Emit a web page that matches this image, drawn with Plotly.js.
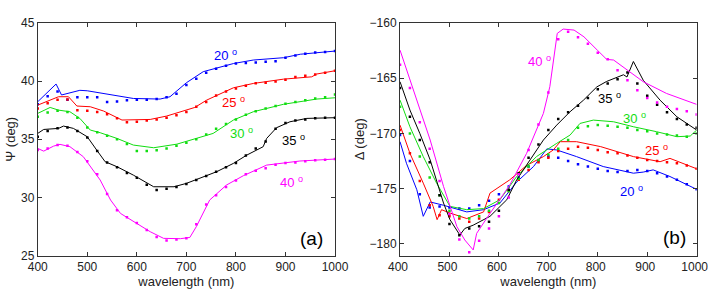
<!DOCTYPE html>
<html><head><meta charset="utf-8">
<script src="https://cdn.plot.ly/plotly-3.0.1.min.js"></script>
<style>html,body{margin:0;padding:0;background:#fff}#c{width:708px;height:292px}</style>
</head><body><div id="c"></div>
<script>
// ---- data ----
const angles = ["20", "25", "30", "35", "40"];
const colors = ["#0000ff", "#ff0000", "#11dd11", "#000000", "#ff00ff"];
const wlExp = [400,420,440,460,480,500,520,540,560,580,600,620,640,660,680,700,720,740,760,780,800,820,840,860,880,900,920,940,960,980,1000];

// Psi measured (dots)
const psiExp20 = [38.0,38.7,39.1,38.4,38.6,38.6,38.6,38.2,38.25,38.35,38.4,38.4,38.45,38.6,38.9,39.65,40.2,40.7,41.05,41.3,41.5,41.55,41.6,41.65,41.7,42.0,42.2,42.35,42.45,42.5,42.57];
const psiExp25 = [37.65,38.1,38.4,38.42,37.5,37.45,37.35,37.15,36.8,36.45,36.5,36.6,36.7,36.85,37.05,37.35,37.79,38.2,38.75,39.1,39.35,39.6,39.8,39.85,39.95,40.1,40.35,40.45,40.55,40.7,40.88];
const psiExp30 = [36.93,37.3,37.45,37.35,36.85,36.0,35.6,35.3,35.0,34.6,34.0,34.0,34.05,34.2,34.45,34.7,35.0,35.4,35.9,36.3,36.7,37.1,37.4,37.65,37.85,38.05,38.2,38.35,38.5,38.6,38.85];
const psiExp35 = [35.21,35.7,35.95,36.0,35.7,35.15,34.0,33.0,32.6,32.1,31.7,31.1,30.64,30.75,30.9,31.15,31.5,31.85,32.2,32.6,32.95,33.6,34.2,34.8,35.9,36.4,36.6,36.7,36.8,36.85,36.85];
const psiExp40 = [34.07,34.2,34.5,34.45,33.9,33.1,32.0,30.3,28.9,28.3,27.8,27.2,26.6,26.3,26.4,26.5,27.7,29.4,30.2,30.9,31.45,32.0,32.3,32.5,32.8,32.95,33.0,33.1,33.2,33.25,33.3];

// Psi model (lines)
const psiFitX20 = [400,437,448,485,500,540,593,647,667,700,734,795,835,896,930,1000];
const psiFit20  = [38.22,39.74,38.8,39.2,39.16,38.85,38.5,38.45,38.65,39.85,40.8,41.5,41.8,42.0,42.3,42.57];
const psiFitX25 = [400,442,462,479,506,533,570,627,660,700,717,741,795,835,896,953,963,1000];
const psiFit25  = [37.93,38.65,38.65,37.85,37.79,37.42,36.65,36.7,36.99,37.5,37.73,38.36,39.42,39.79,40.16,40.36,40.6,40.88];
const psiFitX30 = [400,425,442,465,485,506,526,560,593,634,681,727,754,795,835,896,963,1000];
const psiFit30  = [37.22,37.73,37.5,37.36,36.79,35.79,35.56,35.07,34.5,34.27,34.58,35.13,35.5,36.65,37.36,38.0,38.45,38.56];
const psiFitX35 = [400,412,442,452,472,500,519,536,560,593,634,675,700,727,761,795,822,855,862,882,909,943,1000];
const psiFit35  = [35.5,35.84,35.93,36.13,35.93,35.21,34.07,33.07,32.64,31.92,30.92,30.92,31.21,31.64,32.21,32.93,33.64,34.36,35.07,35.99,36.5,36.79,36.85];
const psiFitX40 = [400,412,432,445,465,492,526,547,567,593,627,654,688,707,720,747,781,815,862,929,1000];
const psiFit40  = [34.21,33.98,34.41,34.56,34.36,33.5,31.5,29.78,28.63,27.92,27.06,26.49,26.46,26.57,27.49,29.78,31.07,31.87,32.78,33.13,33.3];

// Delta measured (dots)
const delExp20 = [-170.15,-172.5,-175.5,-176.7,-176.6,-176.7,-176.8,-176.8,-176.5,-176.1,-175.5,-174.8,-174.0,-173.0,-172.5,-172.1,-172.2,-172.5,-172.8,-173.0,-173.2,-173.4,-173.5,-173.4,-173.3,-173.4,-173.6,-173.9,-174.2,-174.6,-175.06];
const delExp25 = [-169.7,-171.8,-174.3,-176.5,-177.4,-177.5,-177.7,-178.0,-177.7,-177.1,-176.0,-175.2,-174.2,-173.3,-172.6,-172.2,-171.6,-171.4,-171.2,-171.3,-171.5,-171.7,-171.8,-172.0,-172.2,-172.4,-172.5,-172.6,-172.7,-172.9,-173.2];
const delExp30 = [-167.6,-170.0,-172.1,-174.0,-175.6,-177.0,-177.5,-177.7,-177.5,-177.0,-176.3,-175.2,-174.1,-173.0,-172.4,-171.9,-171.4,-170.6,-169.5,-169.35,-169.25,-169.3,-169.4,-169.5,-169.7,-169.8,-170.0,-170.1,-170.2,-170.3,-170.0];
const delExp35 = [-165.9,-168.5,-170.6,-172.6,-175.6,-178.2,-179.2,-178.6,-178.4,-178.0,-177.0,-175.1,-173.6,-172.2,-171.0,-169.7,-168.7,-168.1,-167.5,-166.8,-166.0,-165.5,-165.1,-164.5,-165.5,-166.6,-167.4,-168.1,-168.7,-169.2,-169.5];
const delExp40 = [-163.8,-165.9,-169.0,-171.4,-174.3,-177.3,-179.6,-180.75,-179.7,-178.6,-177.5,-175.8,-173.7,-171.5,-169.2,-166.3,-161.5,-160.8,-161.3,-161.9,-162.7,-163.3,-164.3,-165.2,-166.1,-166.8,-167.2,-167.6,-167.8,-168.0,-168.3];

// Delta model (lines)
const delFitX20 = [400,413,434,447,461,488,535,569,602,636,670,697,717,757,811,872,892,912,946,1000];
const delFit20  = [-170.75,-172.7,-175.1,-177.5,-176.2,-176.5,-177.1,-176.9,-176.3,-174.4,-173.0,-171.4,-171.5,-172.1,-173.0,-173.6,-173.5,-173.3,-173.9,-175.06];
const delFitX25 = [400,420,447,467,475,484,501,535,569,582,622,656,690,710,724,757,806,872,926,939,946,1000];
const delFit25  = [-169.25,-171.8,-174.5,-176.6,-177.8,-176.9,-177.2,-177.7,-177.1,-175.4,-174.2,-172.9,-172.1,-171.5,-170.75,-170.75,-171.2,-172.1,-172.56,-172.4,-172.26,-173.2];
const delFitX30 = [400,420,447,474,501,535,569,602,636,676,717,744,764,791,832,872,919,960,987,1000];
const delFit30  = [-166.99,-169.4,-172.1,-174.5,-176.6,-176.9,-176.8,-176.0,-173.9,-172.1,-170.9,-170.15,-169.1,-168.8,-168.95,-169.4,-169.85,-170.3,-170.24,-169.7];
const delFitX35 = [400,420,440,461,488,501,521,531,548,582,616,636,663,690,717,744,771,798,818,852,859,872,892,926,960,1000];
const delFit35  = [-165.33,-167.89,-170.0,-172.4,-176.3,-177.8,-179.19,-178.6,-178.3,-177.5,-176.0,-174.2,-172.4,-170.6,-169.25,-168.04,-167.0,-165.8,-165.3,-164.7,-164.9,-163.5,-165.2,-167.0,-168.5,-169.7];
const delFitX40 = [400,434,461,488,515,531,548,555,582,622,656,690,703,718,730,752,772,799,818,832,859,892,939,1000];
const delFit40  = [-162.47,-166.99,-170.6,-174.8,-178.43,-179.64,-180.54,-179.04,-177.23,-174.67,-171.81,-168.19,-165.78,-160.96,-160.57,-160.66,-161.27,-162.47,-163.31,-163.37,-164.28,-165.33,-166.39,-167.38];

// label positions (data units)
const psiLabelX = [778, 795, 812, 916, 912];
const psiLabelY = [42.2, 38.16, 35.5, 34.93, 31.35];
const delLabelX = [868, 919, 875, 823, 683];
const delLabelY = [-175.2, -171.5, -168.6, -166.8, -163.5];

const psiExp = [psiExp20, psiExp25, psiExp30, psiExp35, psiExp40];
const psiFitX = [psiFitX20, psiFitX25, psiFitX30, psiFitX35, psiFitX40];
const psiFit = [psiFit20, psiFit25, psiFit30, psiFit35, psiFit40];
const delExp = [delExp20, delExp25, delExp30, delExp35, delExp40];
const delFitX = [delFitX20, delFitX25, delFitX30, delFitX35, delFitX40];
const delFit = [delFit20, delFit25, delFit30, delFit35, delFit40];

const traces = [];
const annotations = [];
const FONT = "Liberation Sans, Arial, sans-serif";
for (let i = 0; i < angles.length; i++) {
  traces.push({x: psiFitX[i], y: psiFit[i], xaxis: "x", yaxis: "y", mode: "lines",
    line: {color: colors[i], width: 1}, showlegend: false, hoverinfo: "skip"});
  traces.push({x: wlExp, y: psiExp[i], xaxis: "x", yaxis: "y", mode: "markers",
    marker: {color: colors[i], size: 2.5, symbol: "square"}, showlegend: false});
  traces.push({x: delFitX[i], y: delFit[i], xaxis: "x2", yaxis: "y2", mode: "lines",
    line: {color: colors[i], width: 1}, showlegend: false, hoverinfo: "skip"});
  traces.push({x: wlExp, y: delExp[i], xaxis: "x2", yaxis: "y2", mode: "markers",
    marker: {color: colors[i], size: 2.5, symbol: "square"}, showlegend: false});
  annotations.push({x: psiLabelX[i], y: psiLabelY[i], xref: "x", yref: "y", showarrow: false,
    text: angles[i] + " <sup>o</sup>", font: {family: FONT, size: 13, color: colors[i]}});
  annotations.push({x: delLabelX[i], y: delLabelY[i], xref: "x2", yref: "y2", showarrow: false,
    text: angles[i] + " <sup>o</sup>", font: {family: FONT, size: 13, color: colors[i]}});
}
annotations.push({x: 953, y: 26.5, xref: "x", yref: "y", showarrow: false, text: "(a)",
  font: {family: FONT, size: 19, color: "#000"}});
annotations.push({x: 956, y: -179.4, xref: "x2", yref: "y2", showarrow: false, text: "(b)",
  font: {family: FONT, size: 19, color: "#000"}});

const axisCommon = {
  showgrid: false, zeroline: false, showline: true, linecolor: "#333", linewidth: 1,
  mirror: "ticks", ticks: "inside", ticklen: 4, tickcolor: "#333",
  ticklabeloverflow: "allow",
  tickfont: {family: FONT, size: 12, color: "#222"}
};
const layout = {
  width: 708, height: 292, margin: {l: 0, r: 0, t: 0, b: 0},
  paper_bgcolor: "#fff", plot_bgcolor: "#fff", showlegend: false,
  xaxis: Object.assign({}, axisCommon, {domain: [0.0533, 0.4732], range: [400, 1000], dtick: 100,
    anchor: "y", title: {text: "wavelength (nm)", font: {family: FONT, size: 13, color: "#222"}, standoff: 3}}),
  yaxis: Object.assign({}, axisCommon, {domain: [0.1243, 0.922], range: [25, 45], dtick: 5,
    anchor: "x", title: {text: "Ψ (deg)", font: {family: FONT, size: 13, color: "#222"}, standoff: 2}}),
  xaxis2: Object.assign({}, axisCommon, {domain: [0.565, 0.984], range: [400, 1000], dtick: 100,
    anchor: "y2", ticklabelshift: -2,
    title: {text: "wavelength (nm)", font: {family: FONT, size: 13, color: "#222"}, standoff: 3}}),
  yaxis2: Object.assign({}, axisCommon, {domain: [0.1243, 0.922], range: [-181.06, -160], tick0: -180, dtick: 5,
    anchor: "x2", title: {text: "Δ (deg)", font: {family: FONT, size: 13, color: "#222"}, standoff: 2}}),
  annotations: annotations
};
Plotly.newPlot("c", traces, layout, {staticPlot: true, displayModeBar: false});
</script>
</body></html>
